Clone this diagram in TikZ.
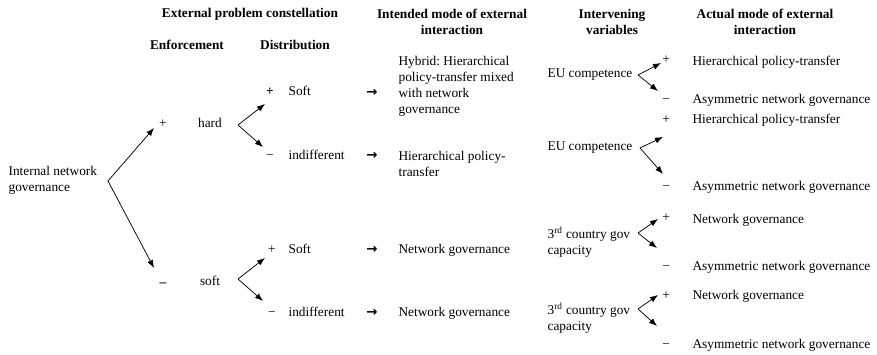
\documentclass[tikz,border=0pt]{standalone}
\usepackage{fontspec}
\setmainfont{Liberation Serif}
\newfontfamily\arrowfont{DejaVu Sans}
\usetikzlibrary{arrows.meta,positioning}
\frenchspacing
\tikzset{
  font=\rmfamily\fontsize{10}{12}\selectfont,
  head/.style={
    font=\rmfamily\fontsize{10}{12}\selectfont\bfseries,
    align=center,
    inner sep=1pt
  },
  txt/.style={
    anchor=west,
    inner sep=1pt,
    text height=7pt,
    text depth=2pt
  },
  multi/.style={
    anchor=west,
    align=left,
    inner sep=1pt
  },
  sign/.style={
    inner sep=1pt,
    text height=7pt,
    text depth=2pt
  },
  goes/.style={
    inner sep=1pt,
    font=\arrowfont\bfseries\fontsize{10}{12}\selectfont
  },
  arrow/.style={-{Latex[length=6pt,width=4.5pt]}, line width=0.55pt}
}

\begin{document}
\begin{tikzpicture}[x=0.75pt, y=-0.75pt]
\useasboundingbox (0,0) rectangle (877,354);

% column heads
\node[head] (hext) at (250,14) {External problem constellation};
\node[head] (henf) at (187,45) {Enforcement};
\node[head] (hdist) at (295,45) {Distribution};
\node[head] (hint) at (452,22) {Intended mode of external\\interaction};
\node[head] (hvar) at (612,22) {Intervening\\variables};
\node[head] (hact) at (765,22) {Actual mode of external\\interaction};

% starting point
\node[multi] (root) at (7,180) {Internal network\\governance};
\coordinate (split) at (108,181);
\coordinate (split-up) at (154,128);
\coordinate (split-dn) at (154,268);

% enforcement
\node[sign] (enf-p) at (163,124) {+};
\node[sign] (hard) at (210,124) {hard};
\node[sign] (enf-m) at (163,283) {\textbf{–}};
\node[sign] (soft) at (210,282) {soft};

\coordinate (hard-split) at (238,125);
\coordinate (hard-up) at (265,104);
\coordinate (hard-dn) at (263,147);
\coordinate (soft-split) at (238,279);
\coordinate (soft-up) at (265,258);
\coordinate (soft-dn) at (263,301);

% distribution
\node[sign] (d1-p) at (270,92) {\textbf{+}};
\node[txt] (d1) at (287,92) {Soft};
\node[sign] (d2-m) at (270,156) {−};
\node[txt] (d2) at (287,156) {indifferent};
\node[sign] (d3-p) at (272,250) {+};
\node[txt] (d3) at (287,250) {Soft};
\node[sign] (d4-m) at (272,313) {−};
\node[txt] (d4) at (287,313) {indifferent};

\node[goes] (g1) at (372,93) {→};
\node[goes] (g2) at (372,156) {→};
\node[goes] (g3) at (372,250) {→};
\node[goes] (g4) at (372,313) {→};

% intended mode
\node[multi] (int1) at (397,86) {Hybrid: Hierarchical\\policy-transfer mixed\\with network\\governance};
\node[multi] (int2) at (397,164) {Hierarchical policy-\\transfer};
\node[txt] (int3) at (397,250) {Network governance};
\node[txt] (int4) at (397,313) {Network governance};

% intervening variables
\node[txt] (var1) at (546,74) {EU competence};
\node[txt] (var2) at (546,147) {EU competence};
\node[multi] (var3) at (546,242) {3\textsuperscript{rd} country gov\\capacity};
\node[multi] (var4) at (546,318) {3\textsuperscript{rd} country gov\\capacity};

\coordinate (v1-split) at (638,75);
\coordinate (v1-up) at (661,63);
\coordinate (v1-dn) at (658,91);
\coordinate (v2-split) at (640,148);
\coordinate (v2-up) at (663,137);
\coordinate (v2-dn) at (663,174);
\coordinate (v3-split) at (638,233);
\coordinate (v3-up) at (658,219);
\coordinate (v3-dn) at (657,248);
\coordinate (v4-split) at (638,309);
\coordinate (v4-up) at (658,295);
\coordinate (v4-dn) at (657,326);

% actual mode
\node[sign] (a1-p) at (666,60) {+};
\node[txt] (a1) at (691,62) {Hierarchical policy-transfer};
\node[sign] (a1-m) at (666,100) {−};
\node[txt] (a1n) at (691,100) {Asymmetric network governance};
\node[sign] (a2-p) at (666,120) {+};
\node[txt] (a2) at (691,120) {Hierarchical policy-transfer};
\node[sign] (a2-m) at (666,187) {−};
\node[txt] (a2n) at (691,187) {Asymmetric network governance};
\node[sign] (a3-p) at (666,218) {+};
\node[txt] (a3) at (691,220) {Network governance};
\node[sign] (a3-m) at (666,267) {−};
\node[txt] (a3n) at (691,267) {Asymmetric network governance};
\node[sign] (a4-p) at (666,296) {+};
\node[txt] (a4) at (691,296) {Network governance};
\node[sign] (a4-m) at (666,345) {−};
\node[txt] (a4n) at (691,345) {Asymmetric network governance};

% branches
\draw[arrow] (split) -- (split-up);
\draw[arrow] (split) -- (split-dn);
\draw[arrow] (hard-split) -- (hard-up);
\draw[arrow] (hard-split) -- (hard-dn);
\draw[arrow] (soft-split) -- (soft-up);
\draw[arrow] (soft-split) -- (soft-dn);
\draw[arrow] (v1-split) -- (v1-up);
\draw[arrow] (v1-split) -- (v1-dn);
\draw[arrow] (v2-split) -- (v2-up);
\draw[arrow] (v2-split) -- (v2-dn);
\draw[arrow] (v3-split) -- (v3-up);
\draw[arrow] (v3-split) -- (v3-dn);
\draw[arrow] (v4-split) -- (v4-up);
\draw[arrow] (v4-split) -- (v4-dn);

\end{tikzpicture}
\end{document}
